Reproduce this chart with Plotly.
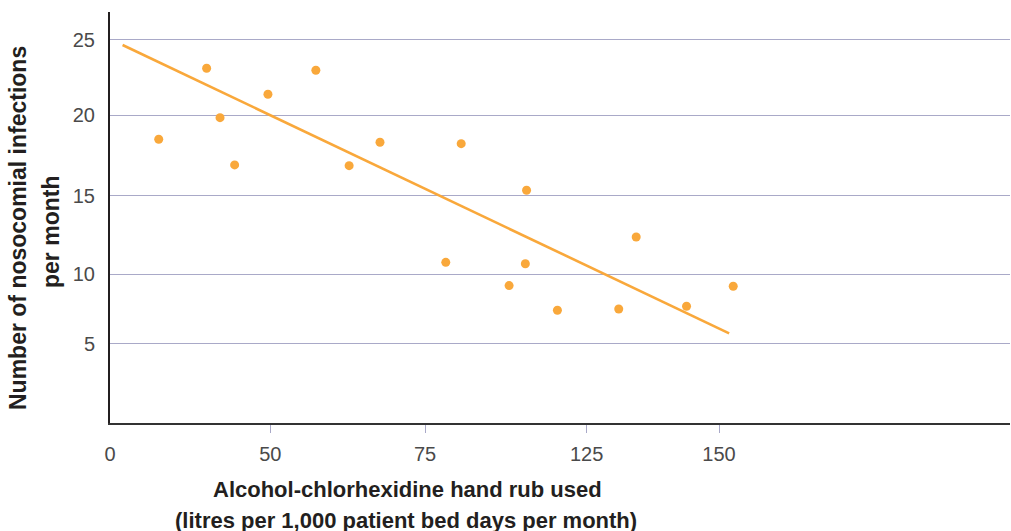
import plotly.graph_objects as go

# Data
hand_rub = [12.0, 23.8, 27.1, 30.7, 38.9, 50.7, 58.9, 66.5, 82.7, 86.5,
            98.3, 102.3, 102.6, 110.2, 125.3, 129.6, 142.0, 153.5]
infections = [18.47, 23.14, 19.89, 16.78, 21.43, 23.01, 16.73, 18.27, 10.37, 18.18,
              8.84, 10.28, 15.11, 7.22, 7.30, 12.04, 7.48, 8.80]

trend_x = [3.1, 152.5]
trend_y = [24.67, 5.70]

x_tick_vals = [0, 39.5, 77.6, 117.4, 150]
x_tick_text = ["0", "50", "75", "125", "150"]
y_tick_vals = [5.0, 9.6, 14.75, 20.05, 25]
y_tick_text = ["5", "10", "15", "20", "25"]

ORANGE = "#F9A83B"
GRID = "#A9A9C8"
DARK = "#231F20"

fig = go.Figure()
fig.add_trace(go.Scatter(x=trend_x, y=trend_y, mode="lines",
                         line=dict(color=ORANGE, width=2.6), hoverinfo="skip",
                         showlegend=False))
fig.add_trace(go.Scatter(x=hand_rub, y=infections, mode="markers",
                         marker=dict(color=ORANGE, size=9, line=dict(width=0)),
                         showlegend=False))

tick_font = dict(family="Liberation Sans", size=20, color="#4A4A4A")
title_font_x = dict(family="Liberation Sans", size=22, color=DARK, weight="bold")
title_font_y = dict(family="Liberation Sans", size=23, color=DARK, weight="bold")

fig.update_layout(
    width=1011, height=531,
    margin=dict(l=110, r=1, t=12, b=108),
    paper_bgcolor="white", plot_bgcolor="white",
    xaxis=dict(range=[0, 221.67], tickvals=x_tick_vals, ticktext=x_tick_text,
               showgrid=False, zeroline=False, showline=True, linecolor="#333333",
               linewidth=2, ticks="", tickfont=tick_font, ticklabelstandoff=12,
               minor=dict(tickvals=x_tick_vals[1:], ticks="outside", ticklen=8,
                          tickcolor=GRID, tickwidth=1, showgrid=False)),
    yaxis=dict(range=[-0.2, 26.84], tickvals=y_tick_vals, ticktext=y_tick_text,
               showgrid=True, gridcolor=GRID, gridwidth=1, zeroline=False,
               showline=True, linecolor=DARK, linewidth=2, ticks="",
               tickfont=tick_font, ticklabelstandoff=9),
    annotations=[
        dict(text="Alcohol-chlorhexidine hand rub used", xref="paper", yref="paper",
             x=(407 - 110) / 900, y=0, yshift=-66, xanchor="center", yanchor="middle",
             showarrow=False, font=title_font_x),
        dict(text="(litres per 1,000 patient bed days per month)", xref="paper", yref="paper",
             x=(406 - 110) / 900, y=0, yshift=-97, xanchor="center", yanchor="middle",
             showarrow=False, font=title_font_x),
        dict(text="Number of nosocomial infections", xref="paper", yref="paper",
             x=0, xshift=-92, y=(423 - 228) / 411, xanchor="center", yanchor="middle",
             textangle=-90, showarrow=False, font=title_font_y),
        dict(text="per month", xref="paper", yref="paper",
             x=0, xshift=-59, y=(423 - 232) / 411, xanchor="center", yanchor="middle",
             textangle=-90, showarrow=False, font=title_font_y),
    ],
)

fig.write_html(
    "out.html",
    config={"displayModeBar": False},
    post_script="document.body.style.margin='0';document.body.style.overflow='hidden';",
)
